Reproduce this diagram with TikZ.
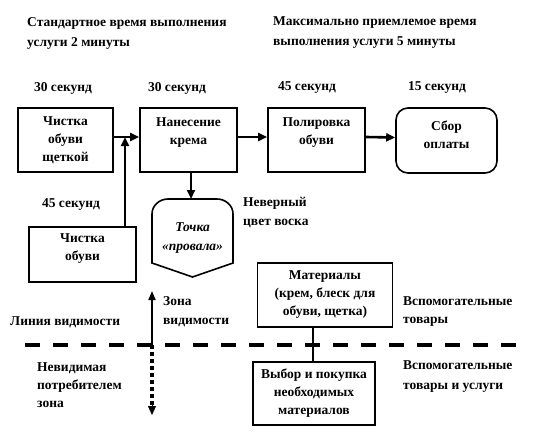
\documentclass[tikz,border=0pt]{standalone}
\usepackage{fontspec}
\setmainfont{Liberation Serif}
\usetikzlibrary{arrows.meta}
\begin{document}
\begin{tikzpicture}[x=1pt,y=-1pt,
  every node/.style={font=\fontsize{13.5}{19}\selectfont\bfseries, inner sep=0pt},
  box/.style={draw, line width=1.6pt, align=center, font=\fontsize{13.5}{18}\selectfont\bfseries},
  txt/.style={anchor=west, align=left},
  arr/.style={line width=2.6pt, -{Triangle[length=9pt,width=8pt]}},
  conn/.style={line width=1.2pt}]
\useasboundingbox (0,0) rectangle (538,444);
% top texts
\node[txt, font=\fontsize{13.5}{20}\selectfont\bfseries] (t1) at (27,33) {Стандартное время выполнения\\услуги 2 минуты};
\node[txt, font=\fontsize{13.5}{20}\selectfont\bfseries] (t2) at (273,33) {Максимально приемлемое время\\выполнения услуги 5 минуты};
\node (s1) at (63,88) {30 секунд};
\node (s2) at (177,88) {30 секунд};
\node (s3) at (307,88) {45 секунд};
\node (s4) at (437,88) {15 секунд};
% boxes
\node[box, minimum width=95, minimum height=64] (b1) at (65.5,140) {Чистка\\обуви\\щеткой};
\node[box, minimum width=97, minimum height=64] (b2) at (188.5,140) {Нанесение\\крема\\[-6pt]\strut};
\node[box, minimum width=97, minimum height=64] (b3) at (316.5,140) {Полировка\\обуви\\[-6pt]\strut};
\node[box, rounded corners=12pt, minimum width=101, minimum height=65] (b4) at (446.5,140.5) {Сбор\\оплаты\\[-12pt]\strut};
\node[box, minimum width=107, minimum height=55] (b5) at (82.5,254.5) {Чистка\\обуви\\[-8pt]\strut};
\node (s5) at (71,205) {45 секунд};
% failure point
\draw[line width=1.6pt] (152,263) -- (152,214) .. controls (152,205) and (160,199) .. (168,199) -- (217,199) .. controls (225,199) and (233,205) .. (233,214) -- (233,263) -- (192.5,277) -- cycle;
\coordinate (tptop) at (191,199);
\node[align=center, font=\fontsize{13.5}{19}\selectfont\bfseries\itshape] (tp) at (192.5,238) {Точка\\«провала»};
\node[txt] (nv) at (243,213) {Неверный\\цвет воска};
% connectors
\coordinate (j) at (125,137);
\draw[arr] ([yshift=3pt]b1.east) -- ([yshift=3pt]b2.west);
\draw[arr] ([yshift=3pt]b2.east) -- ([yshift=3pt]b3.west);
\draw[arr] ([yshift=3pt]b3.east) -- ([yshift=3pt]b4.west);
\draw[arr] (b5.north -| j) -- (j);
\draw[arr] (b2.south -| tptop) -- (tptop);
% materials
\node[box, minimum width=135, minimum height=64] (mat) at (325,295) {Материалы\\(крем, блеск для\\обуви, щетка)};
\node[box, minimum width=122, minimum height=63] (buy) at (314,393.5) {Выбор и покупка\\необходимых\\материалов};
\coordinate (mx) at (313,0);
\draw[conn] (mat.south -| mx) -- (buy.north -| mx);
% visibility line
\coordinate (dl) at (25,345);
\coordinate (dr) at (517,345);
\draw[line width=4pt, dash pattern=on 15pt off 13pt] (dl) -- (dr);
\coordinate (v) at (152,345);
\coordinate (vu) at (152,291);
\coordinate (vd) at (152,415);
\draw[line width=1.8pt, -{Triangle[length=9pt,width=7pt]}] (v) -- (vu);
\draw[line width=3.5pt, dash pattern=on 4pt off 3pt] (v) -- (152,407);
\draw[line width=1pt, -{Triangle[length=9pt,width=8pt]}] (152,405) -- (vd);
% side labels
\node[txt] (lv) at (10,322) {Линия видимости};
\node[txt] (zv) at (163,312) {Зона\\видимости};
\node[txt, font=\fontsize{13.5}{18}\selectfont\bfseries] (nz) at (37,385) {Невидимая\\потребителем\\зона};
\node[txt, font=\fontsize{13.5}{18}\selectfont\bfseries] (vt1) at (403,312) {Вспомогательные\\товары};
\node[txt, font=\fontsize{13.5}{20}\selectfont\bfseries] (vt2) at (403,377) {Вспомогательные\\товары и услуги};
\end{tikzpicture}
\end{document}
